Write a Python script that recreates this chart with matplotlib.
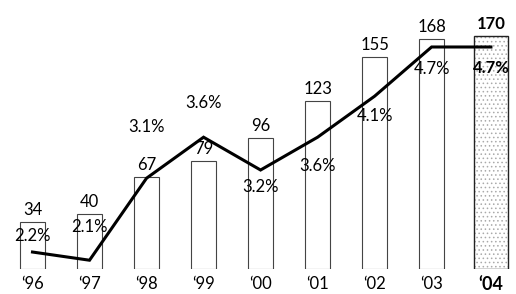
import matplotlib.pyplot as plt
import numpy as np

years = ['‘96', '‘97', '‘98', '‘99', '‘00', '‘01', '‘02', '‘03', '‘04']
counts = [34, 40, 67, 79, 96, 123, 155, 168, 170]
share = [2.2, 2.1, 3.1, 3.6, 3.2, 3.6, 4.1, 4.7, 4.7]
share_labels = ['2.2%', '2.1%', '3.1%', '3.6%', '3.2%', '3.6%', '4.1%', '4.7%', '4.7%']

# label offsets (pixels) of the % labels from the line points
pct_dy = [16, 33, 51, 34, -17, -29, -20, -22, -21]

plt.rcParams['font.family'] = ['Lato', 'DejaVu Sans']
plt.rcParams['hatch.linewidth'] = 0.6

fig = plt.figure(figsize=(5.16, 2.94), dpi=100)
ax = fig.add_axes([0, 25 / 294, 1, 269 / 294])
x = np.arange(len(years))
widths = [0.44] * 8 + [0.6]
xpos = x.astype(float)
xpos[-1] += 0.04

# bars
ax.bar(xpos[:-1], counts[:-1], width=widths[:-1], color='white',
       edgecolor='#444444', linewidth=0.8)
ax.bar(xpos[-1], counts[-1], width=widths[-1], color='white',
       edgecolor='#aaaaaa', linewidth=0, hatch='....')
ax.bar(xpos[-1], counts[-1], width=widths[-1], color='none',
       edgecolor='#222222', linewidth=1.0)
ax.set_xlim(-0.57, 8.48)
ax.set_ylim(0, 196.4)

for i, c in enumerate(counts):
    ax.annotate(str(c), (xpos[i], c), xytext=(0, 12), textcoords='offset pixels',
                ha='center', va='center', fontsize=12,
                fontweight='bold' if i == 8 else 'normal')

ax.set_xticks(xpos)
ax.set_xticklabels(years, fontsize=12)
for lbl in ax.get_xticklabels()[-1:]:
    lbl.set_fontweight('bold')
    lbl.set_fontsize(13)
ax.tick_params(axis='x', length=0, pad=5)
ax.set_yticks([])
for s in ax.spines.values():
    s.set_visible(False)

# line on second scale
ax2 = ax.twinx()
ax2.plot(xpos, share, color='black', linewidth=2.2, solid_joinstyle='miter')
ax2.set_ylim(1.993, 5.273)
ax2.set_yticks([])
for s in ax2.spines.values():
    s.set_visible(False)

for i, v in enumerate(share):
    ax2.annotate(share_labels[i], (xpos[i], v), xytext=(0, pct_dy[i]),
                 textcoords='offset pixels', ha='center', va='center',
                 fontsize=12, fontweight='bold' if i == 8 else 'normal')

fig.savefig('out.png', dpi=100)
